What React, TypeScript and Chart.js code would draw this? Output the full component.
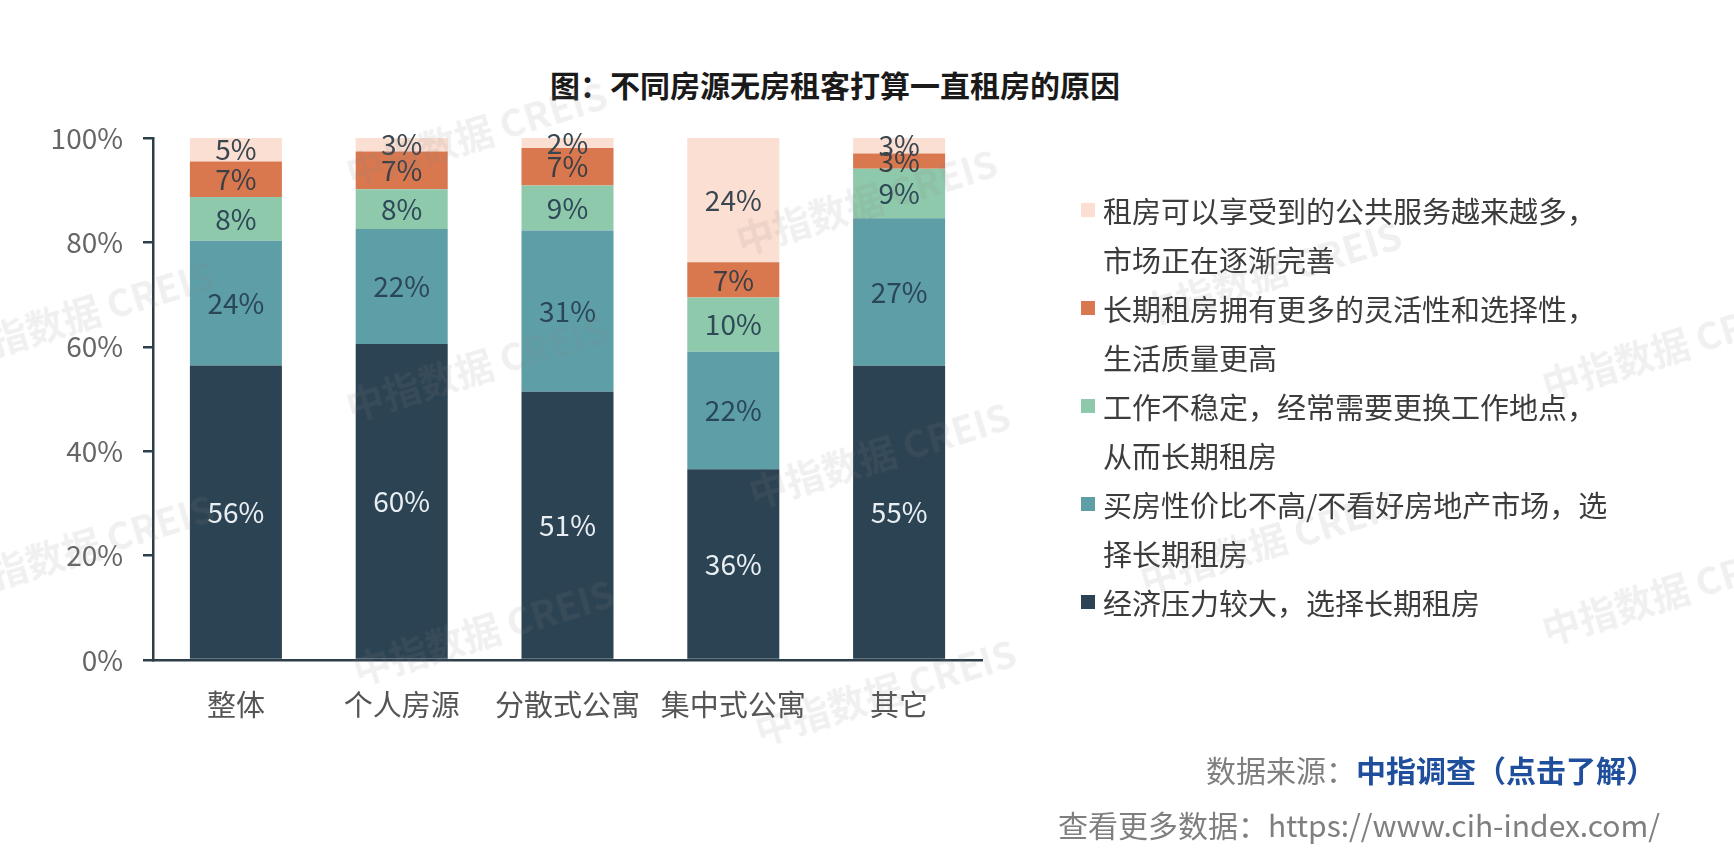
import React, { useEffect, useRef } from "react";
import { Chart, registerables } from "chart.js";

Chart.register(...registerables);

// ---------- data ----------
const categories = ["整体", "个人房源", "分散式公寓", "集中式公寓", "其它"];

const seriesNames = [
  "经济压力较大，选择长期租房",
  "买房性价比不高/不看好房地产市场，选择长期租房",
  "工作不稳定，经常需要更换工作地点，从而长期租房",
  "长期租房拥有更多的灵活性和选择性，生活质量更高",
  "租房可以享受到的公共服务越来越多，市场正在逐渐完善",
];

// raw survey shares (%), as labelled; columns are drawn as 100% stacked
const economicPressure = [56.4, 60.4, 51.4, 36.2, 54.6];
const poorValue = [23.9, 22.0, 30.9, 22.3, 27.4];
const unstableWork = [8.4, 7.6, 8.6, 10.3, 9.2];
const flexibility = [6.8, 7.2, 7.2, 6.7, 2.8];
const publicServices = [4.5, 2.6, 1.9, 23.6, 2.9];

const seriesValues = [economicPressure, poorValue, unstableWork, flexibility, publicServices];
const seriesColors = ["#2c4353", "#5e9ea7", "#8fc9ab", "#d9784f", "#fbdfd2"];
const labelColors = ["#e8eef2", "#2b4756", "#2e4a58", "#3d3f45", "#3a4650"];

const yTicks = [0, 20, 40, 60, 80, 100];

// legend display lines (same text as seriesNames, wrapped as in the source)
const legendLines = [
  ["租房可以享受到的公共服务越来越多，", "市场正在逐渐完善"],
  ["长期租房拥有更多的灵活性和选择性，", "生活质量更高"],
  ["工作不稳定，经常需要更换工作地点，", "从而长期租房"],
  ["买房性价比不高/不看好房地产市场，选", "择长期租房"],
  ["经济压力较大，选择长期租房"],
];
const legendColors = ["#fbdfd2", "#d9784f", "#8fc9ab", "#5e9ea7", "#2c4353"];

const titleText = "图：不同房源无房租客打算一直租房的原因";
const sourceLabel = "数据来源：";
const sourceLink = "中指调查（点击了解）";
const moreText = "查看更多数据：https://www.cih-index.com/";
const watermarkText = "中指数据 CREIS";

const FONT = '"Noto Sans CJK SC", "Noto Sans", sans-serif';

const totals = categories.map((_, i) => seriesValues.reduce((s, arr) => s + arr[i], 0));

const watermarks = [
  [476, 132],
  [866, 200],
  [83, 312],
  [476, 366],
  [1672, 345],
  [879, 453],
  [83, 545],
  [483, 630],
  [1672, 590],
  [885, 690],
  [1270, 272],
  [1270, 540],
];

export default function App() {
  const canvasRef = useRef<HTMLCanvasElement | null>(null);

  useEffect(() => {
    const canvas = canvasRef.current;
    if (!canvas) return;

    const labelPlugin = {
      id: "segmentLabels",
      afterDatasetsDraw(chart: any) {
        const ctx = chart.ctx;
        ctx.save();
        ctx.font = `28px ${FONT}`;
        ctx.textAlign = "center";
        ctx.textBaseline = "middle";
        chart.data.datasets.forEach((ds: any, di: number) => {
          const meta = chart.getDatasetMeta(di);
          meta.data.forEach((el: any, i: number) => {
            const p = el.getProps(["x", "y", "base"], true);
            const raw = seriesValues[di][i];
            ctx.fillStyle = labelColors[di];
            ctx.fillText(Math.round(raw) + "%", p.x, (p.y + p.base) / 2);
          });
        });
        ctx.restore();
      },
    };

    const chart = new Chart(canvas, {
      type: "bar",
      data: {
        labels: categories,
        datasets: seriesNames.map((name, si) => ({
          label: name,
          data: seriesValues[si].map((v, i) => (v / totals[i]) * 100),
          backgroundColor: seriesColors[si],
          borderWidth: 0,
          categoryPercentage: 1,
          barPercentage: 0.555,
        })),
      },
      options: {
        responsive: false,
        animation: false,
        devicePixelRatio: 1,
        layout: { padding: { left: 0, right: 752, top: 138, bottom: 124 } },
        plugins: {
          legend: { display: false },
          title: { display: false },
          tooltip: { enabled: false },
        },
        scales: {
          x: {
            stacked: true,
            grid: { display: false, drawTicks: false },
            border: { display: true, color: "#2c3e4a", width: 2.5 },
            ticks: {
              color: "#555555",
              font: { family: FONT, size: 29 },
              padding: 28,
            },
            afterFit: (scale: any) => {
              scale.height = 80;
            },
          },
          y: {
            stacked: true,
            min: 0,
            max: 100,
            afterBuildTicks: (scale: any) => {
              scale.ticks = yTicks.map((v) => ({ value: v }));
            },
            grid: {
              drawOnChartArea: false,
              drawTicks: true,
              tickLength: 10,
              color: "#2c3e4a",
              lineWidth: 2.5,
            },
            border: { display: true, color: "#2c3e4a", width: 2.5 },
            ticks: {
              color: "#666666",
              font: { family: FONT, size: 28 },
              padding: 20,
              callback: (v: any) => v + "%",
            },
            afterFit: (scale: any) => {
              scale.width = 153;
            },
          },
        },
      },
      plugins: [labelPlugin],
    });

    return () => chart.destroy();
  }, []);

  return (
    <div
      style={{
        position: "absolute",
        left: 0,
        top: 0,
        width: 1734,
        height: 864,
        overflow: "hidden",
        background: "#ffffff",
        fontFamily: FONT,
      }}
    >
      <div
        style={{
          position: "absolute",
          left: 435,
          width: 800,
          top: 64,
          height: 40,
          lineHeight: "40px",
          textAlign: "center",
          fontSize: 30,
          fontWeight: 700,
          color: "#1a1a1a",
          whiteSpace: "nowrap",
        }}
      >
        {titleText}
      </div>

      <canvas ref={canvasRef} width={1734} height={864} style={{ position: "absolute", left: 0, top: 0 }} />

      <div style={{ position: "absolute", left: 1081, top: 186 }}>
        {legendLines.map((lines, li) => (
          <div key={li} style={{ position: "relative" }}>
            <div
              style={{
                position: "absolute",
                left: 0,
                top: 17,
                width: 14,
                height: 14,
                background: legendColors[li],
              }}
            />
            {lines.map((t, k) => (
              <div
                key={k}
                style={{
                  marginLeft: 22,
                  height: 49,
                  lineHeight: "49px",
                  fontSize: 29,
                  color: "#3c3c3c",
                  whiteSpace: "nowrap",
                }}
              >
                {t}
              </div>
            ))}
          </div>
        ))}
      </div>

      <div
        style={{
          position: "absolute",
          right: 78,
          top: 750,
          height: 38,
          lineHeight: "38px",
          fontSize: 30,
          whiteSpace: "nowrap",
        }}
      >
        <span style={{ color: "#7f7f7f" }}>{sourceLabel}</span>
        <span style={{ color: "#1f4e9c", fontWeight: 700 }}>{sourceLink}</span>
      </div>
      <div
        style={{
          position: "absolute",
          right: 74,
          top: 805,
          height: 38,
          lineHeight: "38px",
          fontSize: 30,
          color: "#7f7f7f",
          whiteSpace: "nowrap",
        }}
      >
        {moreText}
      </div>

      {watermarks.map(([x, y], i) => (
        <div
          key={i}
          style={{
            position: "absolute",
            left: x - 160,
            top: y - 25,
            width: 320,
            height: 50,
            lineHeight: "50px",
            textAlign: "center",
            fontSize: 38,
            fontWeight: 700,
            color: "rgba(128,128,128,0.12)",
            transform: "rotate(-17deg)",
            whiteSpace: "nowrap",
            pointerEvents: "none",
          }}
        >
          {watermarkText}
        </div>
      ))}
    </div>
  );
}
